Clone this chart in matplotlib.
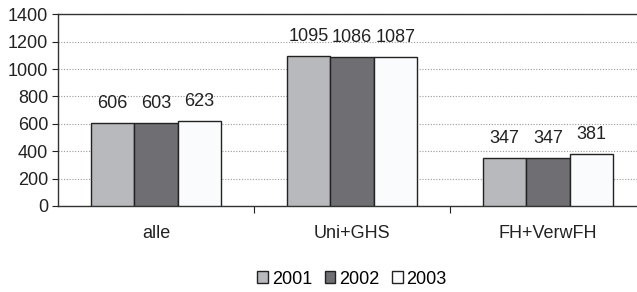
import matplotlib.pyplot as plt
import numpy as np

plt.rcParams["font.family"] = ["Liberation Sans", "DejaVu Sans"]

categories = ["alle", "Uni+GHS", "FH+VerwFH"]
years = ["2001", "2002", "2003"]
values_2001 = [606, 1095, 347]
values_2002 = [603, 1086, 347]
values_2003 = [623, 1087, 381]
colors = ["#b8b9bc", "#6f6e73", "#fafbfd"]

fs = 13

fig = plt.figure(figsize=(6.37, 2.92), dpi=100)
ax = fig.add_axes([58 / 637, 1 - 206 / 292, 588 / 637, (206 - 14.3) / 292])

x = np.arange(len(categories))
width = 0.221
series = [values_2001, values_2002, values_2003]
for i, (vals, col, yr) in enumerate(zip(series, colors, years)):
    pos = x + (i - 1) * width
    bars = ax.bar(pos, vals, width, color=col, edgecolor="#222222",
                  linewidth=1.0, label=yr, zorder=3)
    for b, v in zip(bars, vals):
        ax.annotate(str(v), (b.get_x() + b.get_width() / 2, v),
                    xytext=(0, 8), textcoords="offset points",
                    ha="center", va="bottom", fontsize=fs, color="#222222")

ax.set_xlim(-0.5, 2.5)
ax.set_ylim(0, 1400)
ax.set_yticks(range(0, 1401, 200))
ax.yaxis.grid(True, linestyle=(0, (1, 1.5)), color="#999999", linewidth=0.8, zorder=0)
ax.set_xticks([0.5, 1.5, 2.5])
ax.set_xticklabels([])
ax.set_xticks(x, minor=True)
ax.set_xticklabels(categories, minor=True, fontsize=fs, color="#222222")
ax.tick_params(axis="x", which="minor", length=0, pad=14)
ax.tick_params(axis="x", which="major", length=5, direction="out", color="#222222")
ax.tick_params(axis="y", length=4, direction="out", labelsize=fs,
               labelcolor="#222222", color="#222222", pad=3)
for s in ["left", "bottom", "top"]:
    ax.spines[s].set_color("#333333")
    ax.spines[s].set_linewidth(1.0)
ax.spines["right"].set_visible(False)

fig.legend(loc="center", bbox_to_anchor=(352 / 637, 1 - 279 / 292), ncol=3,
           frameon=False, fontsize=fs, handlelength=0.6, handleheight=0.6,
           handletextpad=0.2, columnspacing=0.7, borderaxespad=0)

fig.savefig("out.png", dpi=100)
